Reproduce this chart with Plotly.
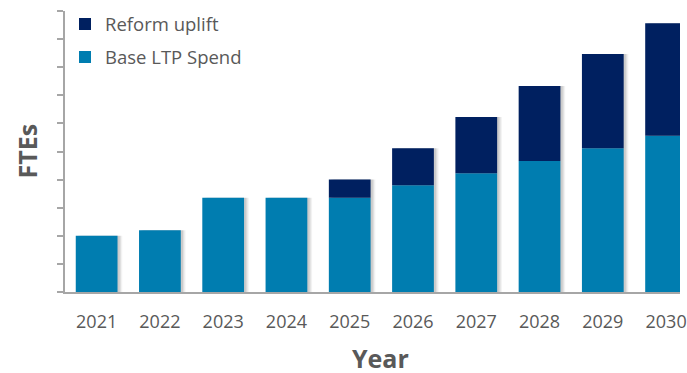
import plotly.graph_objects as go

years = ["2021", "2022", "2023", "2024", "2025", "2026", "2027", "2028", "2029", "2030"]
base_ltp = [200, 220, 335, 335, 335, 380, 423, 466, 512, 556]
reform_uplift = [0, 0, 0, 0, 65, 132, 200, 267, 335, 400]
totals = [b + r for b, r in zip(base_ltp, reform_uplift)]

BASE_COL = "#007DB0"
REFORM_COL = "#002060"
GREY = "#595959"
AXIS = "#A6A6A6"
FONT = "Open Sans"
BW = 0.66

fig = go.Figure()
# soft drop shadow behind the bars
for k, alpha in [(0.075, 0.05), (0.055, 0.07), (0.035, 0.09)]:
    fig.add_trace(go.Bar(
        x=years, y=totals, width=BW, offset=-BW / 2 + k,
        marker_color=f"rgba(0,0,0,{alpha})", marker_line_width=0,
        showlegend=False, hoverinfo="skip",
    ))
fig.add_trace(go.Bar(
    x=years, y=base_ltp, name="Base LTP Spend", marker_color=BASE_COL,
    marker_line_width=0, width=BW, offset=-BW / 2, legendrank=2,
    legendgroup="b",
))
fig.add_trace(go.Bar(
    x=years, y=reform_uplift, base=base_ltp, name="Reform uplift",
    marker_color=REFORM_COL, marker_line_width=0, width=BW, offset=-BW / 2,
    legendrank=1, legendgroup="a",
))

fig.update_layout(
    width=687, height=373,
    margin=dict(l=65, r=0, t=11, b=81),
    barmode="overlay",
    plot_bgcolor="white", paper_bgcolor="white",
    font=dict(family=FONT, color=GREY, size=18),
    showlegend=True,
    legend=dict(
        x=0.0, y=1.02, xanchor="left", yanchor="top",
        traceorder="grouped", tracegroupgap=6,
        font=dict(size=18.5, color=GREY), bgcolor="rgba(0,0,0,0)",
        itemwidth=30,
    ),
    xaxis=dict(
        range=[-0.5, 9.22], showline=True, linecolor=AXIS, linewidth=2,
        ticks="", showgrid=False, tickfont=dict(size=18, color=GREY),
        ticklabelstandoff=12,
    ),
    yaxis=dict(
        range=[0, 1000], dtick=100, showline=True, linecolor=AXIS, linewidth=2,
        ticks="outside", ticklen=6, tickcolor=AXIS, tickwidth=2,
        showticklabels=False, showgrid=False, zeroline=False,
    ),
    annotations=[
        dict(text="<b>FTEs</b>", x=27, y=151, xref="paper", yref="paper",
             xanchor="center", yanchor="middle",
             showarrow=False, textangle=-90, font=dict(size=25, color=GREY)),
        dict(text="<b>Year</b>", x=384, y=358, xref="paper", yref="paper",
             xanchor="center", yanchor="middle",
             showarrow=False, font=dict(size=25, color=GREY)),
    ],
)

# convert annotation pixel positions to paper coords
pw, ph = 687 - 65 - 0, 373 - 11 - 81
for a in fig.layout.annotations:
    px, py = a.x, a.y
    a.x = (px - 65) / pw
    a.y = (373 - 81 - py) / ph

fig.write_html("out.html")
